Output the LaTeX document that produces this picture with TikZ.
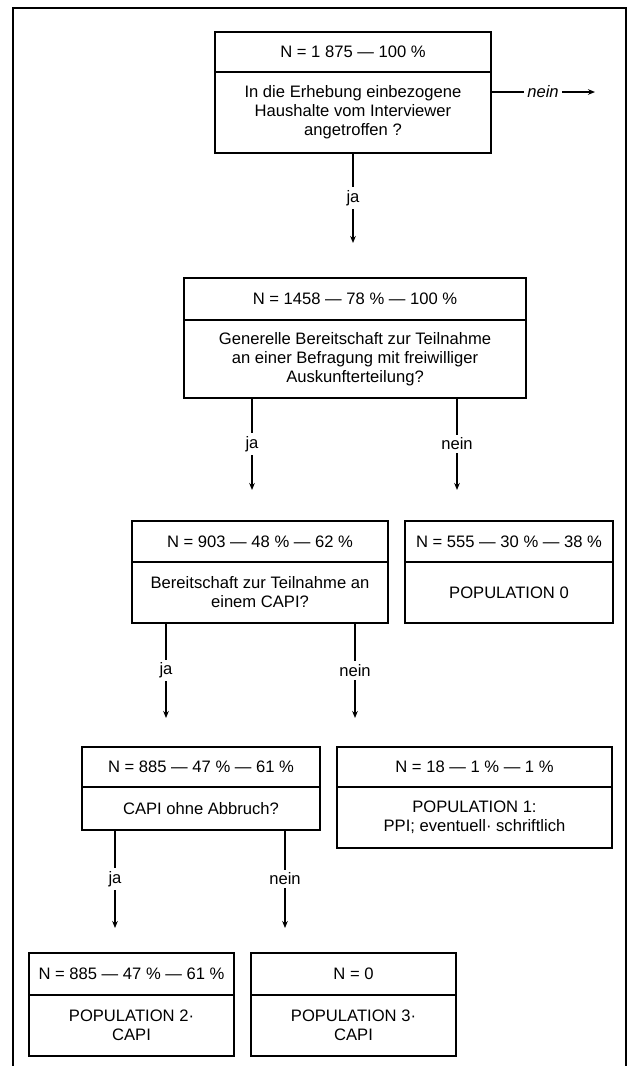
\documentclass[tikz,border=0pt]{standalone}
\usepackage{fontspec}
\setmainfont{Liberation Sans}
\usetikzlibrary{arrows.meta,positioning}

\tikzset{
  headbox/.style={draw, line width=0.75pt, inner sep=0pt, outer sep=0pt,
    minimum height=20.5pt, align=center, font=\fontsize{8.3}{9.5}\selectfont},
  bodybox/.style={draw, line width=0.75pt, inner sep=0pt, outer sep=0pt,
    align=center, font=\fontsize{8.3}{9.5}\selectfont},
  flow/.style={line width=0.65pt, -{Stealth[length=3.5pt,width=2.8pt]}},
  answer/.style={fill=white, inner sep=1.5pt, font=\fontsize{8.3}{9.5}\selectfont}
}

\begin{document}
\begin{tikzpicture}[x=0.5pt,y=-0.5pt]
  \useasboundingbox (0,0) rectangle (629,1066);
  % frame
  \draw[line width=0.75pt] (13,1066) -- (13,8) -- (626,8) -- (626,1066);

  % level 1
  \node[headbox, minimum width=138pt, minimum height=20pt] (h1) at (353,52) {N = 1 875 — 100 \%};
  \node[bodybox, minimum width=138pt, minimum height=40.5pt, below=0pt of h1] (q1)
    {In die Erhebung einbezogene\\Haushalte vom Interviewer\\angetroffen ?};

  % level 2
  \node[headbox, minimum width=171pt, minimum height=21pt] (h2) at (355,299) {N = 1458 — 78 \% — 100 \%};
  \node[bodybox, minimum width=171pt, minimum height=39pt, below=0pt of h2] (q2)
    {Generelle Bereitschaft zur Teilnahme\\an einer Befragung mit freiwilliger\\Auskunfterteilung?};

  % level 3
  \node[headbox, minimum width=128pt] (h3) at (260,541.5) {N = 903 — 48 \% — 62 \%};
  \node[bodybox, minimum width=128pt, minimum height=30.5pt, below=0pt of h3] (q3)
    {Bereitschaft zur Teilnahme an\\einem CAPI?};
  \node[headbox, minimum width=104pt] (h4) at (509,541.5) {N = 555 — 30 \% — 38 \%};
  \node[bodybox, minimum width=104pt, minimum height=30.5pt, below=0pt of h4] (q4)
    {POPULATION 0};

  % level 4
  \node[headbox, minimum width=119pt, minimum height=20pt] (h5) at (201,767) {N = 885 — 47 \% — 61 \%};
  \node[bodybox, minimum width=119pt, minimum height=21.5pt, below=0pt of h5] (q5)
    {CAPI ohne Abbruch?};
  \node[headbox, minimum width=137.5pt, minimum height=20pt] (h6) at (474.5,767) {N = 18 — 1 \% — 1 \%};
  \node[bodybox, minimum width=137.5pt, minimum height=30.5pt, below=0pt of h6] (q6)
    {POPULATION 1:\\PPI; eventuell· schriftlich};

  % level 5
  \node[headbox, minimum width=102.5pt, minimum height=21pt] (h7) at (131.5,974) {N = 885 — 47 \% — 61 \%};
  \node[bodybox, minimum width=102.5pt, minimum height=30.5pt, below=0pt of h7] (q7)
    {POPULATION 2·\\CAPI};
  \node[headbox, minimum width=102.5pt, minimum height=21pt] (h8) at (353.5,974) {N = 0};
  \node[bodybox, minimum width=102.5pt, minimum height=30.5pt, below=0pt of h8] (q8)
    {POPULATION 3·\\CAPI};

  % arrow ends
  \coordinate (n1) at (595,92);
  \coordinate (j1) at (353,243);
  \coordinate (j2) at (252,490);
  \coordinate (n2) at (457,490);
  \coordinate (j3) at (166,718);
  \coordinate (n3) at (355,718);
  \coordinate (j4) at (115,928);
  \coordinate (n4) at (285,928);

  \draw[flow] (q1.east |- n1) -- node[answer, font=\fontsize{8.3}{9.5}\selectfont\itshape] {nein} (n1);
  \draw[flow] (q1.south -| j1) -- node[answer] {ja} (j1);
  \draw[flow] (q2.south -| j2) -- node[answer] {ja} (j2);
  \draw[flow] (q2.south -| n2) -- node[answer] {nein} (n2);
  \draw[flow] (q3.south -| j3) -- node[answer] {ja} (j3);
  \draw[flow] (q3.south -| n3) -- node[answer] {nein} (n3);
  \draw[flow] (q5.south -| j4) -- node[answer] {ja} (j4);
  \draw[flow] (q5.south -| n4) -- node[answer] {nein} (n4);
\end{tikzpicture}
\end{document}
